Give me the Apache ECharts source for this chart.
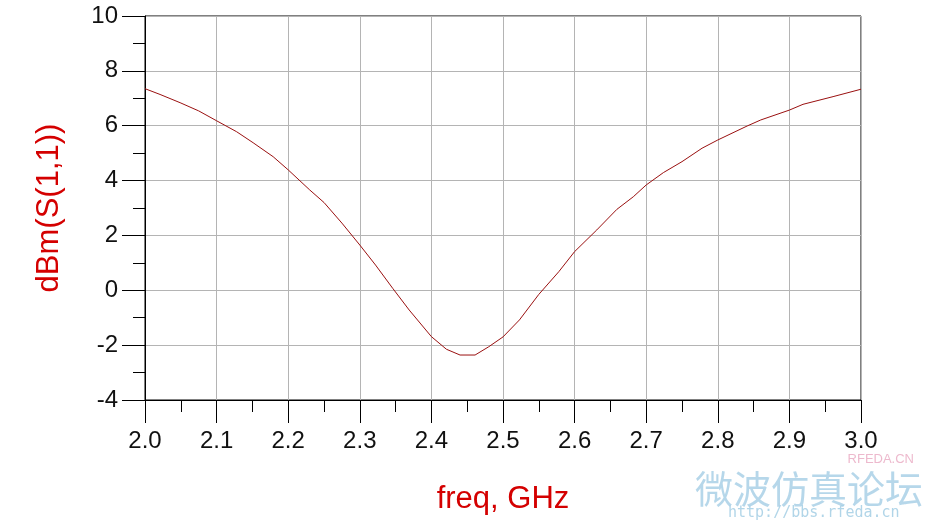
<!DOCTYPE html>
<html>
<head>
<meta charset="utf-8">
<script src="https://cdn.jsdelivr.net/npm/echarts@6/dist/echarts.min.js"></script>
<style>
html,body{margin:0;padding:0;background:#fff;}
#chart{width:941px;height:530px;}
</style>
</head>
<body>
<div id="chart"></div>
<script>
// frequency points (GHz)
const freq = [2.000,2.021,2.049,2.075,2.100,2.128,2.151,2.179,2.200,2.230,2.250,2.275,2.300,2.322,2.346,2.369,2.400,2.421,2.440,2.461,2.480,2.500,2.523,2.550,2.578,2.600,2.631,2.659,2.682,2.700,2.724,2.750,2.778,2.800,2.841,2.860,2.900,2.919,2.961,3.000];
// dBm(S(1,1)) values
const s11 = [7.35,7.14,6.84,6.54,6.18,5.78,5.38,4.87,4.39,3.66,3.20,2.45,1.65,0.92,0.07,-0.72,-1.69,-2.15,-2.36,-2.36,-2.06,-1.70,-1.08,-0.15,0.68,1.41,2.20,2.95,3.41,3.84,4.29,4.69,5.18,5.48,5.99,6.21,6.57,6.78,7.06,7.33];
const xTitle = 'freq, GHz';
const yTitle = 'dBm(S(1,1))';
const watermarkTexts = ['RFEDA.CN','微波仿真论坛','http://bbs.rfeda.cn'];

const chart = echarts.init(document.getElementById('chart'));
const FONT = '"Liberation Sans", Arial, sans-serif';
chart.setOption({
  animation:false,
  backgroundColor:'#fff',
  grid:{left:145,right:80,top:16,bottom:130,show:true,borderColor:'#000',borderWidth:1},
  xAxis:{
    type:'value',min:2.0,max:3.0,interval:0.1,
    name:xTitle,nameLocation:'middle',nameGap:84,
    nameTextStyle:{color:'#d40000',fontSize:31,fontFamily:FONT},
    axisLine:{onZero:false,lineStyle:{color:'#000',width:1}},
    axisTick:{show:true,length:23,lineStyle:{color:'#000'}},
    minorTick:{show:true,splitNumber:2,length:12,lineStyle:{color:'#000'}},
    splitLine:{show:true,lineStyle:{color:'#b4b4b4',width:1}},
    axisLabel:{fontSize:24,color:'#111',fontFamily:FONT,margin:29,formatter:v=>v.toFixed(1)}
  },
  yAxis:{
    type:'value',min:-4,max:10,interval:2,
    name:yTitle,nameLocation:'middle',nameGap:80,nameRotate:90,
    nameTextStyle:{color:'#d40000',fontSize:31,fontFamily:FONT},
    axisLine:{show:true,onZero:false,lineStyle:{color:'#000',width:1}},
    axisTick:{show:true,length:23,lineStyle:{color:'#000'}},
    minorTick:{show:true,splitNumber:2,length:12,lineStyle:{color:'#000'}},
    splitLine:{show:true,lineStyle:{color:'#b4b4b4',width:1}},
    axisLabel:{fontSize:24,color:'#111',fontFamily:FONT,margin:27}
  },
  graphic:[
    {type:'text',right:27,top:453,style:{text:watermarkTexts[0],fill:'#e8a8c0',font:'13px '+FONT,opacity:0.8}},
    {type:'text',left:695,top:470,style:{text:watermarkTexts[1],fill:'#a9d0e6',font:'38px "Noto Sans CJK SC"',opacity:0.85}},
    {type:'text',left:728,top:506,style:{text:watermarkTexts[2],fill:'#a9d0e6',font:'15px "DejaVu Sans Mono"',opacity:0.9}}
  ],
  series:[{
    type:'line',
    data:freq.map((f,i)=>[f,s11[i]]),
    showSymbol:false,smooth:false,
    lineStyle:{color:'#9a1010',width:1},
    z:5
  }]
});
</script>
</body>
</html>
